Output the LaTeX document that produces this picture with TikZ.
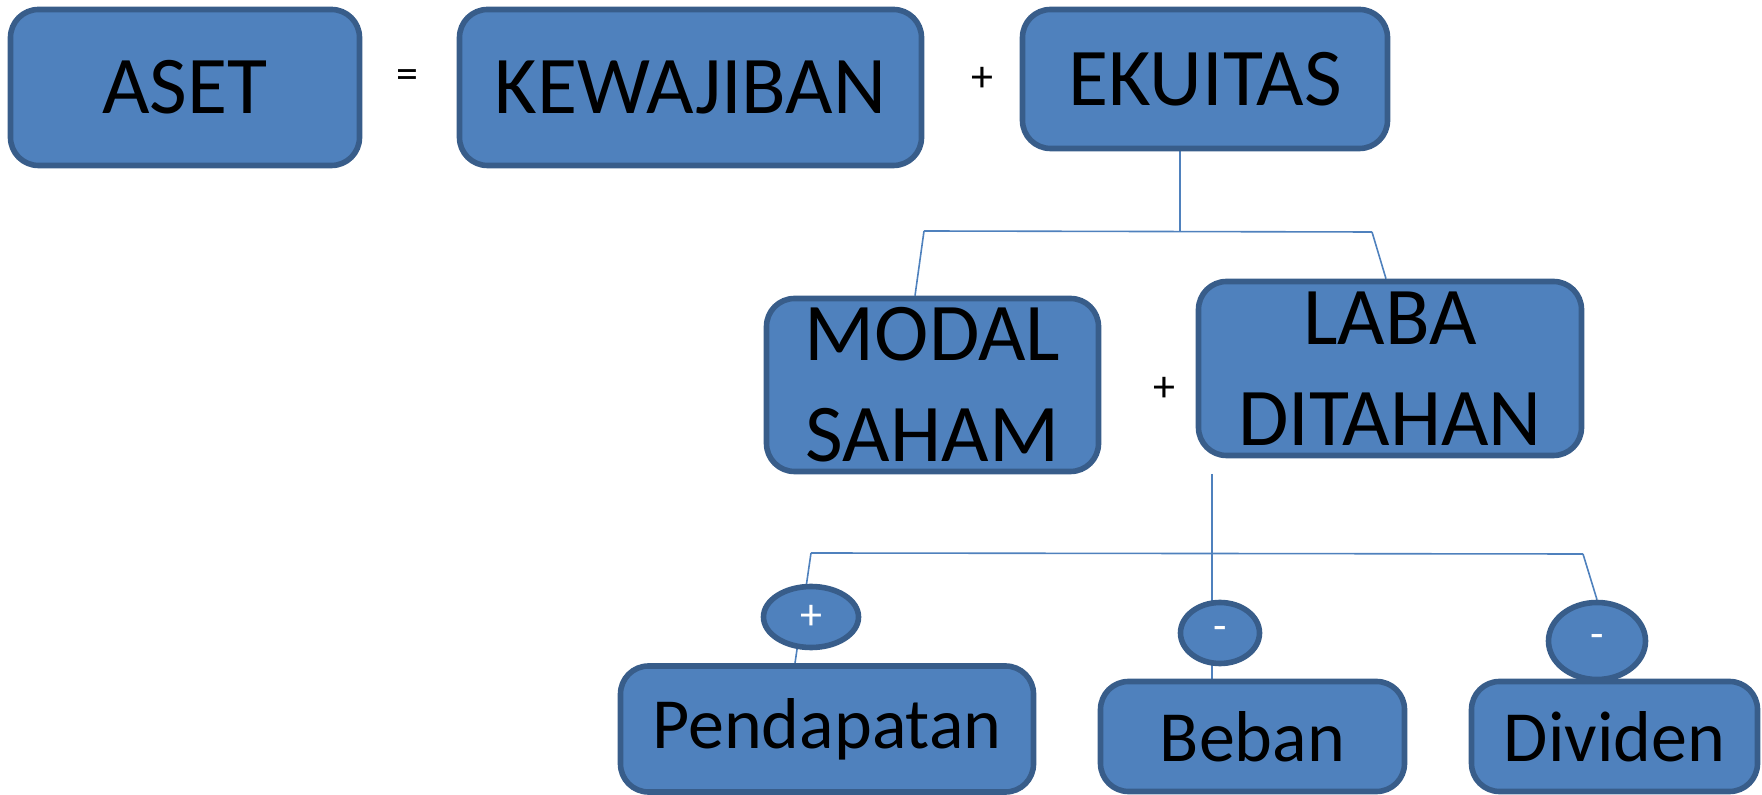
\documentclass[tikz,border=0pt]{standalone}
\usepackage{fontspec}
\setmainfont{Carlito}
\usetikzlibrary{shapes.geometric,backgrounds}
\definecolor{boxfill}{HTML}{4F81BD}
\definecolor{boxline}{HTML}{385D8A}
\tikzstyle{box}=[draw=boxline, fill=boxfill, line width=2.8pt, rounded corners=14pt, inner sep=0pt, align=center, font=\fontsize{41}{50.5}\selectfont]
\tikzstyle{subbox}=[box, font=\fontsize{36}{43}\selectfont]
\tikzstyle{sign}=[ellipse, draw=boxline, fill=boxfill, line width=2.8pt, inner sep=0pt, text=white, font=\fontsize{22}{26}\selectfont]
\tikzstyle{op}=[inner sep=0pt, font=\fontsize{22}{26}\selectfont]
\tikzstyle{link}=[draw=boxfill, line width=0.8pt]

\begin{document}
\begin{tikzpicture}[x=0.5pt, y=-0.5pt]
\useasboundingbox (0,0) rectangle (1762,795);
% equation row
\node[box, minimum width=174.5pt, minimum height=78pt] (aset) at (185,87.5) {ASET};
\node[op] (eq) at (407,79) {=};
\node[box, minimum width=231pt, minimum height=78pt] (kewajiban) at (690.5,87.5) {KEWAJIBAN};
\node[op] (plus1) at (982,79) {+};
\node[box, minimum width=182.5pt, minimum height=69.5pt] (ekuitas) at (1205,79) {EKUITAS};
% equity parts
\node[box, minimum width=166pt, minimum height=86.5pt] (modal) at (932.5,385) {MODAL\\SAHAM};
\node[op] (plus2) at (1164,389) {+};
\node[box, minimum width=191.5pt, minimum height=87pt] (laba) at (1390,368.5) {LABA\\DITAHAN};
% retained earnings parts
\node[subbox, minimum width=206.5pt, minimum height=63pt] (pendapatan) at (827,729) {Pendapatan};
\node[subbox, minimum width=152pt, minimum height=55pt] (beban) at (1252.5,736.5) {Beban};
\node[subbox, minimum width=143pt, minimum height=55pt] (dividen) at (1614.5,736.5) {Dividen};
\node[sign, minimum width=47.5pt, minimum height=30.5pt] (pendsign) at (811,617) {+};
\node[sign, minimum width=39.5pt, minimum height=30.5pt] (bebansign) at (1220,633) {-};
\node[sign, minimum width=48.5pt, minimum height=38.5pt] (divsign) at (1597,641) {-};
% connectors
\coordinate (eqjoin) at (1180,231);
\coordinate (eqleft) at (924,231);
\coordinate (eqright) at (1372,232);
\coordinate (labafoot) at (1212,474);
\coordinate (releft) at (811,553);
\coordinate (reright) at (1583,554);
\begin{pgfonlayer}{background}
\draw[link] (ekuitas.south -| eqjoin) -- (eqjoin);
\draw[link] (eqleft) -- (eqright);
\draw[link] (eqleft) -- ([xshift=-8.75pt]modal.north);
\draw[link] (eqright) -- ([xshift=-2pt]laba.north);
\draw[link] (labafoot) -- (beban.north -| labafoot);
\draw[link] (releft) -- (reright);
\draw[link] (releft) -- ([xshift=-16pt]pendapatan.north);
\draw[link] (reright) -- (divsign.north);
\end{pgfonlayer}
\end{tikzpicture}
\end{document}
